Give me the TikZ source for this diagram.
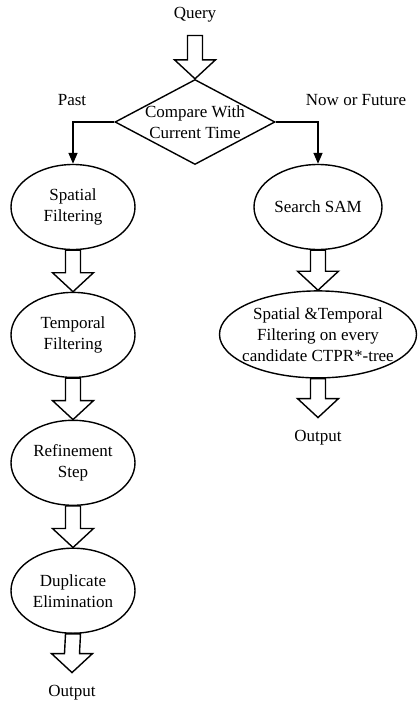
\documentclass[tikz,border=0pt]{standalone}
\usepackage{fontspec}
\setmainfont{Liberation Serif}
\usetikzlibrary{arrows.meta,positioning,calc,shapes.geometric}
\tikzset{
  oval/.style={draw, ellipse, line width=1.4pt, inner sep=0pt, minimum width=124pt, minimum height=85pt, align=center},
  decision/.style={draw, diamond, shape aspect=1.88, line width=1.4pt, inner xsep=-5pt, inner ysep=-3pt, minimum width=160pt, minimum height=85pt, align=center},
  txt/.style={inner sep=0pt, outer ysep=13pt},
  fat/.style={line width=1.4pt, line join=miter},
  branch/.style={-{Triangle[width=9pt,length=11pt]}, line width=1.4pt}
}
% hollow block arrow from #1 down to #2
\newcommand{\hollowarrow}[2]{%
  \draw[fat] ($(#1)+(-7.5pt,0pt)$) -- ($(#2)+(-7.5pt,19pt)$) -- ($(#2)+(-20.5pt,19pt)$)
    -- (#2) -- ($(#2)+(20.5pt,19pt)$) -- ($(#2)+(7.5pt,19pt)$) -- ($(#1)+(7.5pt,0pt)$) -- cycle;}

\begin{document}
\begin{tikzpicture}[x=1pt, y=-1pt, node distance=41.5pt, font=\fontsize{17}{21}\selectfont]
  \useasboundingbox (0,0) rectangle (418,704);
  \node[txt] (query) at (195,15) {Query};
  \node[decision] (cmp) at (195,122) {Compare With\\Current Time};
  \node[txt] (past) at (72,100) {Past};
  \node[txt] (future) at (356,100) {Now or Future};

  % past branch
  \node[oval] (spatial) at (73,207) {Spatial\\Filtering};
  \node[oval, below=of spatial] (temporal) {Temporal\\Filtering};
  \node[oval, below=of temporal] (refine) {Refinement\\Step};
  \node[oval, below=of refine] (dup) {Duplicate\\Elimination};
  \node[txt] (outleft) at (72,693) {Output};

  % now / future branch
  \node[oval, minimum width=128pt] (search) at (318,207) {Search SAM};
  \node[oval, minimum width=197pt, minimum height=87pt, inner xsep=-8pt, below=40pt of search] (spt)
    {Spatial \&Temporal\\Filtering on every\\candidate CTPR*-tree};
  \node[txt] (outright) at (318,438) {Output};

  \hollowarrow{query.south}{cmp.north}
  \draw[branch] (cmp.west) -| (spatial.north);
  \draw[branch] (cmp.east) -| (search.north);
  \hollowarrow{spatial.south}{temporal.north}
  \hollowarrow{temporal.south}{refine.north}
  \hollowarrow{refine.south}{dup.north}
  \hollowarrow{dup.south}{outleft.north}
  \hollowarrow{search.south}{spt.north}
  \hollowarrow{spt.south}{outright.north}
\end{tikzpicture}
\end{document}
